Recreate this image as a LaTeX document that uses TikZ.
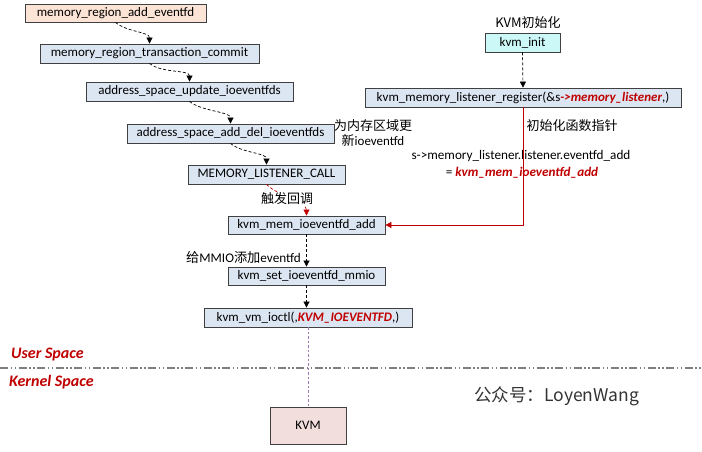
\documentclass[tikz,border=0pt]{standalone}
\usepackage{fontspec}
\setmainfont{Carlito}
\newfontfamily\cjk{Noto Sans CJK SC}
\usetikzlibrary{arrows.meta}
\definecolor{boxblue}{HTML}{DCE6F2}
\definecolor{boxpeach}{HTML}{FBE3D5}
\definecolor{boxcyan}{HTML}{CCF8F8}
\definecolor{boxpink}{HTML}{F2DEDC}
\definecolor{kred}{HTML}{C00000}
\definecolor{kpurple}{HTML}{9A7BB8}
\definecolor{sepgray}{HTML}{7F7F7F}
\newcommand{\rbi}[1]{\textcolor{kred}{\bfseries\itshape #1}}
\begin{document}
\begin{tikzpicture}[x=1pt,y=-1pt,
  fbox/.style={draw=black!75, line width=0.8pt, fill=boxblue, inner sep=0pt,
    minimum height=19pt, font=\fontsize{13}{15}\selectfont},
  lbl/.style={inner sep=0pt, font=\fontsize{13.2}{15}\selectfont},
  clbl/.style={inner sep=0pt, font=\fontsize{13}{15.5}\selectfont\cjk},
  tip/.style={-{Triangle[length=6pt,width=6pt]}},
  dflow/.style={tip, dash pattern=on 3pt off 2pt, line width=0.7pt},
  spacelbl/.style={inner sep=0pt, anchor=west, font=\fontsize{16}{18}\selectfont\bfseries\itshape, text=kred},
]
\useasboundingbox (0,0) rectangle (702,452);

% boxes
\node[fbox, fill=boxpeach, minimum width=181pt, minimum height=18pt] (b1) at (115.5,13) {memory\_region\_add\_eventfd};
\node[fbox, minimum width=219pt] (b2) at (149.5,53.5) {memory\_region\_transaction\_commit};
\node[fbox, minimum width=207pt] (b3) at (189.5,91.5) {address\_space\_update\_ioeventfds};
\node[fbox, minimum width=207pt] (b4) at (230.5,133.5) {address\_space\_add\_del\_ioeventfds};
\node[fbox, minimum width=157pt] (b5) at (266.5,174.5) {MEMORY\_LISTENER\_CALL};
\node[fbox, minimum width=157pt, minimum height=18pt] (b6) at (306.5,225) {kvm\_mem\_ioeventfd\_add};
\node[fbox, minimum width=157pt, minimum height=18pt] (b7) at (306.5,276) {kvm\_set\_ioeventfd\_mmio};
\node[fbox, minimum width=208pt] (b8) at (308,317.5) {kvm\_vm\_ioctl(,\rbi{KVM\_IOEVENTFD},)};
\node[fbox, fill=boxpink, minimum width=76pt, minimum height=37pt] (kvm) at (308,425.5) {KVM};
\node[fbox, fill=boxcyan, minimum width=75pt] (init) at (522.5,42.5) {kvm\_init};
\node[fbox, minimum width=316pt] (reg) at (523,97.5) {kvm\_memory\_listener\_register(\&s\rbi{->memory\_listener},)};

% labels
\node[clbl] (tinit) at (528,23) {KVM初始化};
\node[clbl, align=center] (tupd) at (373,133) {为内存区域更\\新{\fontspec{Carlito}ioeventfd}};
\node[clbl] (tptr) at (572,126) {初始化函数指针};
\node[lbl] (tassign1) at (521,156) {s->memory\_listener.listener.eventfd\_add};
\node[lbl] (tassign2) at (522,173) {= \rbi{kvm\_mem\_ioeventfd\_add}};
\node[lbl, anchor=east] (tmmio) at (301,258) {{\cjk 给}MMIO{\cjk 添加}eventfd};

% connectors
\draw[dflow] (b1.south) .. controls +(12,10) and +(0,-12) .. (b2.north);
\draw[dflow] (b2.south) .. controls +(12,10) and +(0,-12) .. (b3.north);
\draw[dflow] (b3.south) .. controls +(12,10) and +(0,-12) .. (b4.north);
\draw[dflow] (b4.south) .. controls +(12,10) and +(0,-12) .. (b5.north);
\draw[dflow, draw=kred] (b5.south) .. controls +(12,12) and +(0,-14) .. (b6.north);
\node[clbl, fill=white, inner sep=1pt] (tcb) at (287,199) {触发回调};
\draw[dflow] (b6.south) -- (b7.north);
\draw[dflow] (b7.south) -- (b7.south |- b8.north);
\draw[dflow] (init.south) -- (reg.north);
\draw[kred, line width=0.8pt, tip] (reg.south) |- (b6.east);
\draw[kpurple, line width=0.7pt, dash pattern=on 2.5pt off 2pt] (b8.south) -- (kvm.north);

% user / kernel separator
\draw[sepgray, line width=1.8pt, dash pattern=on 8pt off 2.5pt on 1.5pt off 2.5pt on 1.5pt off 2.5pt] (0,368) -- (702,368);
\node[spacelbl] (tuser) at (11,355) {User Space};
\node[spacelbl] (tkern) at (9,382) {Kernel Space};
\node[inner sep=0pt, anchor=west, font=\fontsize{17.5}{20}\selectfont\cjk, text=black!80] (wm) at (474,396) {公众号：LoyenWang};
\end{tikzpicture}
\end{document}
